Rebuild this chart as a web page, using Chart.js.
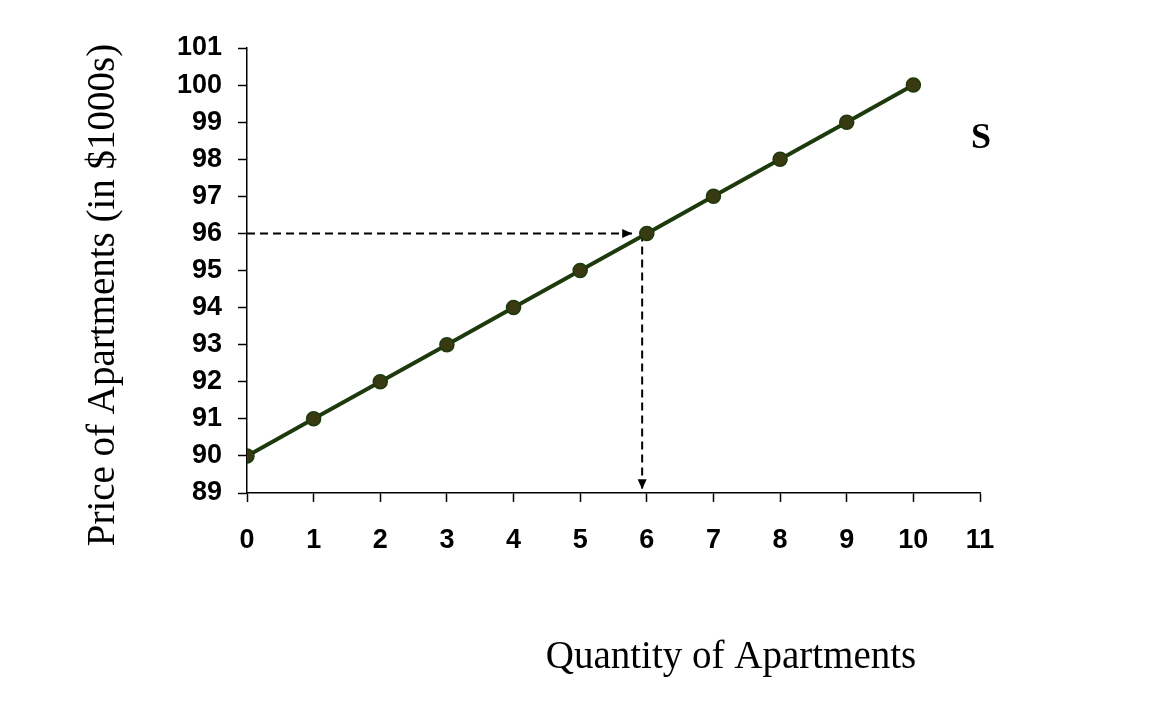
<!DOCTYPE html>
<html>
<head>
<meta charset="utf-8">
<script src="https://cdn.jsdelivr.net/npm/chart.js@4/dist/chart.umd.min.js"></script>
<style>
  html, body { margin: 0; padding: 0; background: #fff; }
  #wrap { width: 1168px; height: 708px; }
</style>
</head>
<body>
<div id="wrap"><canvas id="chart"></canvas></div>
<script>
// Supply curve data
const quantity = [0, 1, 2, 3, 4, 5, 6, 7, 8, 9, 10];
const price = [90, 91, 92, 93, 94, 95, 96, 97, 98, 99, 100];

// Dashed guide lines
const guideH = [{ x: 0, y: 96 }, { x: 5.78, y: 96 }];
const guideV = [{ x: 5.93, y: 96 }, { x: 5.93, y: 89.1 }];

const xMin = 0, xMax = 11;
const yMin = 89, yMax = 101;

const yTitle = 'Price of Apartments (in $1000s)';
const xTitle = 'Quantity of Apartments';
const curveLabel = 'S';

// arrowheads at the end of the dashed lines + free text
const extras = {
    id: 'extras',
    afterDatasetsDraw(chart) {
        const ctx = chart.ctx;
        const xs = chart.scales.x, ys = chart.scales.y;
        [1, 2].forEach(i => {
            const pts = chart.data.datasets[i].data;
            const a = pts[pts.length - 2], b = pts[pts.length - 1];
            const x1 = xs.getPixelForValue(a.x), y1 = ys.getPixelForValue(a.y);
            const x2 = xs.getPixelForValue(b.x), y2 = ys.getPixelForValue(b.y);
            const ang = Math.atan2(y2 - y1, x2 - x1);
            const len = 10, w = 4.5;
            ctx.save();
            ctx.translate(x2, y2);
            ctx.rotate(ang);
            ctx.beginPath();
            ctx.moveTo(0, 0);
            ctx.lineTo(-len, -w);
            ctx.lineTo(-len, w);
            ctx.closePath();
            ctx.fillStyle = '#000';
            ctx.fill();
            ctx.restore();
        });
    },
    afterDraw(chart) {
        const ctx = chart.ctx;
        ctx.save();
        ctx.fillStyle = '#000';
        ctx.font = '39px "Liberation Serif", "Times New Roman", serif';
        ctx.textAlign = 'center';
        ctx.textBaseline = 'middle';
        ctx.fillText(xTitle, 731, 658);
        ctx.translate(104, 295);
        ctx.rotate(-Math.PI / 2);
        ctx.fillText(yTitle, 0, 0);
        ctx.restore();

        ctx.save();
        ctx.fillStyle = '#000';
        ctx.font = 'bold 36px "Liberation Serif", "Times New Roman", serif';
        ctx.textAlign = 'center';
        ctx.textBaseline = 'middle';
        ctx.fillText(curveLabel, 981, 139);
        ctx.restore();
    }
};

const tickFont = { family: '"Liberation Sans", Arial, sans-serif', size: 27, weight: 'bold' };

new Chart(document.getElementById('chart'), {
    type: 'scatter',
    data: {
        datasets: [
            {
                data: quantity.map((q, i) => ({ x: q, y: price[i] })),
                showLine: true,
                borderColor: '#1c3a0c',
                borderWidth: 4,
                pointRadius: 7,
                pointBackgroundColor: '#3a3a12',
                pointBorderColor: '#1c3a0c',
                pointBorderWidth: 1.5,
                order: 0
            },
            {
                data: guideH,
                showLine: true,
                borderColor: '#000',
                borderWidth: 2,
                borderDash: [8, 5],
                pointRadius: 0,
                order: 1
            },
            {
                data: guideV,
                showLine: true,
                borderColor: '#000',
                borderWidth: 2,
                borderDash: [8, 5],
                pointRadius: 0,
                order: 1
            }
        ]
    },
    options: {
        responsive: true,
        maintainAspectRatio: false,
        animation: false,
        layout: { padding: { left: 0, right: 188, top: 48, bottom: 0 } },
        plugins: {
            legend: { display: false },
            tooltip: { enabled: false }
        },
        scales: {
            x: {
                type: 'linear',
                min: xMin,
                max: xMax,
                ticks: { stepSize: 1, color: '#000', font: tickFont, padding: 22 },
                grid: { display: true, drawOnChartArea: false, drawTicks: true, tickLength: 9, color: '#000', tickWidth: 1.5 },
                border: { color: '#000', width: 1.5 },
                afterFit(scale) { scale.height = 215; }
            },
            y: {
                min: yMin,
                max: yMax,
                ticks: { stepSize: 1, color: '#000', font: tickFont, padding: 16 },
                grid: { display: true, drawOnChartArea: false, drawTicks: true, tickLength: 9, color: '#000', tickWidth: 1.5 },
                border: { color: '#000', width: 1.5 },
                afterFit(scale) { scale.width = 247; }
            }
        }
    },
    plugins: [extras]
});
</script>
</body>
</html>
